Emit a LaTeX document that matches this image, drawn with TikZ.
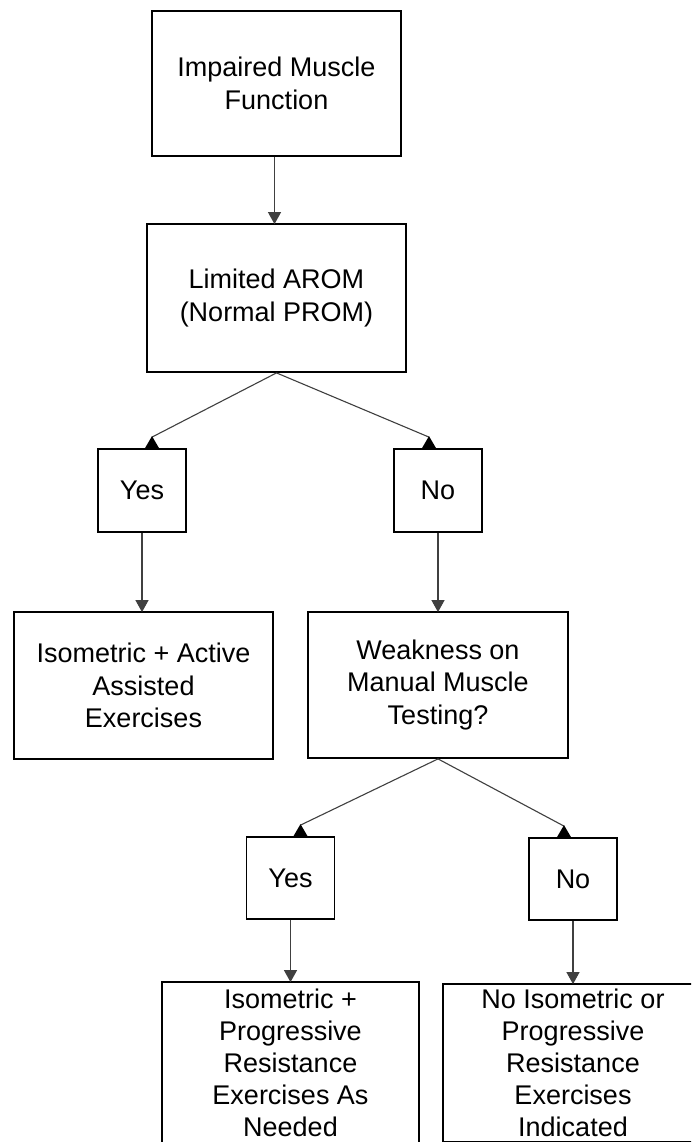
\documentclass[tikz,border=0pt]{standalone}
\usepackage{fontspec}
\setmainfont{Liberation Sans}
\usetikzlibrary{arrows.meta}

\tikzset{
  box/.style={draw=black, line width=1.8pt, fill=white, align=center,
    font=\fontsize{27}{32.5}\selectfont, inner sep=0pt},
  tallbox/.style={box, font=\fontsize{27}{32}\selectfont},
  conn/.style={draw=black!75, line width=1.1pt},
  down/.style={conn, -{Triangle[length=12pt,width=13pt]}, shorten >=-1pt},
  uptip/.style={fill=black},
}

\begin{document}
\begin{tikzpicture}[x=1pt, y=-1pt]
  \path[use as bounding box] (0,0) rectangle (691,1142);
  \clip (0,0) rectangle (691,1142);
  \fill[white] (0,0) rectangle (691,1142);

  % decision chain
  \node[box, minimum width=249pt, minimum height=145pt] (b1) at (276.5,83.5) {Impaired Muscle\\Function};
  \node[box, minimum width=259pt, minimum height=148pt] (b2) at (276.5,298) {Limited AROM\\(Normal PROM)};

  \node[box, minimum width=88pt, minimum height=83pt] (yes1) at (142,490.5) {Yes};
  \node[box, minimum width=88pt, minimum height=83pt] (no1) at (438,490.5) {No};

  \node[box, minimum width=259pt, minimum height=147pt] (b3) at (143.5,685.5) {Isometric + Active\\Assisted\\Exercises};
  \node[box, minimum width=260pt, minimum height=146pt] (b4) at (438,685) {Weakness on\\Manual Muscle\\Testing?};

  \node[box, minimum width=88pt, minimum height=82pt] (yes2) at (290.5,878) {Yes};
  \node[box, minimum width=88pt, minimum height=82pt] (no2) at (573,879) {No};

  \node[tallbox, minimum width=257pt, minimum height=162pt] (b5) at (290.5,1063) {Isometric +\\Progressive\\Resistance\\Exercises As\\Needed};
  \node[tallbox, minimum width=260pt, minimum height=158pt] (b6) at (573,1063) {No Isometric or\\Progressive\\Resistance\\Exercises\\Indicated};

  % straight connectors
  \draw[down] ([xshift=-2pt]b1.south) -- ([xshift=-2pt]b2.north);
  \draw[down] (yes1.south) -- (yes1.south |- b3.north);
  \draw[down] (no1.south) -- (no1.south |- b4.north);
  \draw[down] (yes2.south) -- (yes2.south |- b5.north);
  \draw[down] (no2.south) -- (no2.south |- b6.north);

  % branching connectors with tips resting on the box tops
  \coordinate (t1) at ([xshift=10pt]yes1.north);
  \coordinate (t2) at ([xshift=-9pt]no1.north);
  \coordinate (t3) at ([xshift=10pt]yes2.north);
  \coordinate (t4) at ([xshift=-9pt]no2.north);
  \foreach \src/\t in {b2/t1, b2/t2, b4/t3, b4/t4} {
    \draw[conn] (\src.south) -- ([yshift=11pt]\t);
    \fill[uptip] ([xshift=-7pt]\t) -- ([yshift=12pt]\t) -- ([xshift=7pt]\t) -- cycle;
  }
\end{tikzpicture}
\end{document}
